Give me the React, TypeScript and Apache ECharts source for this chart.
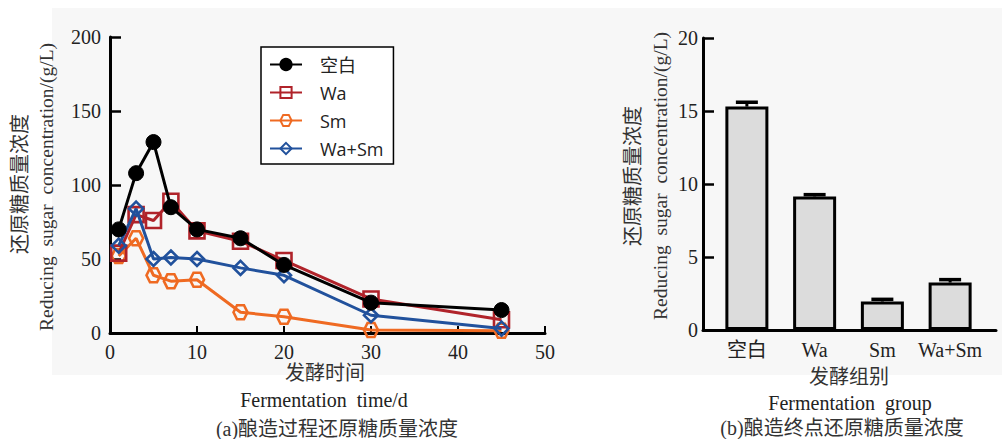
import React, { useEffect, useRef } from "react";
import * as echarts from "echarts";

const days = [1, 3, 5, 7, 10, 15, 20, 30, 45];
const blank = [70, 108, 129, 85, 70, 64, 46, 20.5, 15.5];
const wa = [54, 80, 76, 89, 69, 62, 49, 23, 9];
const sm = [52, 64, 39, 35, 36, 14, 11, 2, 1.5];
const waSm = [59, 84, 50, 51, 50, 44, 39, 12, 3];

const seriesNames = ["空白", "Wa", "Sm", "Wa+Sm"];
const groups = ["空白", "Wa", "Sm", "Wa+Sm"];
const finalValues = [15.3, 9.15, 1.95, 3.25];
const finalErrors = [0.3, 0.12, 0.15, 0.2];

const xTicks = { min: 0, max: 50, interval: 10 };
const yTicksA = { min: 0, max: 200, interval: 50 };
const yTicksB = { min: 0, max: 20, interval: 5 };

const SERIF = "'Liberation Serif', 'Times New Roman', 'Noto Sans CJK SC', serif";
const SANS = "'Open Sans', 'Noto Sans', 'Noto Sans CJK SC', sans-serif";

const hexagon = "path://M-1,0 L-0.5,-0.87 L0.5,-0.87 L1,0 L0.5,0.87 L-0.5,0.87 Z";

function pairs(vals: number[]) {
  return days.map((d, i) => [d, vals[i]]);
}

export default function App() {
  const ref = useRef<HTMLDivElement>(null);
  useEffect(() => {
    document.body.style.margin = "0";
    const chart = echarts.init(ref.current!, undefined, { renderer: "svg" });
    const axisLine = { show: true, lineStyle: { color: "#000", width: 3 } };
    const labelStyle = { color: "#222", fontFamily: SERIF, fontSize: 20 };
    const lineSeries = (name: string, vals: number[], color: string, symbol: string, size: number, filled: boolean, z: number) => ({
      name,
      type: "line",
      xAxisIndex: 0,
      yAxisIndex: 0,
      data: pairs(vals),
      symbol,
      symbolSize: size,
      showAllSymbol: true,
      z,
      lineStyle: { color, width: 3 },
      itemStyle: filled
        ? { color, borderColor: color, borderWidth: 1 }
        : { color: "rgba(255,255,255,0)", borderColor: color, borderWidth: 2.6 },
      emphasis: { disabled: true },
    });

    chart.setOption({
      animation: false,
      graphic: [
        { type: "rect", z: -10, shape: { x: 52, y: 8, width: 950, height: 367 }, style: { fill: "#f7f7f7" } },
        { type: "text", x: 20, y: 184, rotation: Math.PI / 2, style: { text: "还原糖质量浓度", font: `20px ${SERIF}`, fill: "#333", align: "center", verticalAlign: "middle" } },
        { type: "text", x: 46, y: 187, rotation: Math.PI / 2, style: { text: "Reducing  sugar  concentration/(g/L)", font: `19.5px ${SERIF}`, fill: "#333", align: "center", verticalAlign: "middle" } },
        { type: "text", x: 325, y: 373, style: { text: "发酵时间", font: `20px ${SERIF}`, fill: "#333", align: "center", verticalAlign: "middle" } },
        { type: "text", x: 324, y: 400, style: { text: "Fermentation  time/d", font: `20px ${SERIF}`, fill: "#222", align: "center", verticalAlign: "middle" } },
        { type: "text", x: 337, y: 429, style: { text: "(a)酿造过程还原糖质量浓度", font: `20px ${SERIF}`, fill: "#333", align: "center", verticalAlign: "middle" } },
        { type: "text", x: 633, y: 176, rotation: Math.PI / 2, style: { text: "还原糖质量浓度", font: `20px ${SERIF}`, fill: "#333", align: "center", verticalAlign: "middle" } },
        { type: "text", x: 660, y: 176, rotation: Math.PI / 2, style: { text: "Reducing  sugar  concentration/(g/L)", font: `19.5px ${SERIF}`, fill: "#333", align: "center", verticalAlign: "middle" } },
        { type: "text", x: 849, y: 377, style: { text: "发酵组别", font: `20px ${SERIF}`, fill: "#333", align: "center", verticalAlign: "middle" } },
        { type: "text", x: 850, y: 403, style: { text: "Fermentation  group", font: `20px ${SERIF}`, fill: "#222", align: "center", verticalAlign: "middle" } },
        { type: "text", x: 842, y: 428, style: { text: "(b)酿造终点还原糖质量浓度", font: `20px ${SERIF}`, fill: "#333", align: "center", verticalAlign: "middle" } },
      ],
      legend: {
        data: seriesNames,
        orient: "vertical",
        left: 261,
        top: 47,
        padding: [8, 10, 6, 8],
        itemWidth: 32,
        itemHeight: 14,
        itemGap: 9,
        backgroundColor: "#fff",
        borderColor: "#000",
        borderWidth: 1.5,
        borderRadius: 0,
        textStyle: { fontFamily: SANS, fontSize: 18, color: "#222", lineHeight: 19, padding: [0, 0, 0, 13] },
        selectedMode: false,
      },
      grid: [
        { left: 110, right: 457, top: 37, bottom: 106 },
        { left: 713, right: 18, top: 38, bottom: 109 },
        { left: 703, right: 6, top: 38, bottom: 109 },
      ],
      xAxis: [
        {
          type: "value",
          gridIndex: 0,
          min: xTicks.min,
          max: xTicks.max,
          interval: xTicks.interval,
          axisLine,
          axisTick: { show: true, inside: true, length: 7, lineStyle: { color: "#000", width: 2 } },
          axisLabel: { ...labelStyle, margin: 9 },
          splitLine: { show: false },
        },
        {
          type: "category",
          gridIndex: 1,
          data: groups,
          axisLine: { show: false },
          axisTick: { show: false },
          axisLabel: { ...labelStyle, interval: 0, margin: 10 },
        },
        {
          type: "value",
          gridIndex: 2,
          min: 0,
          max: 1,
          axisLine,
          axisTick: { show: false },
          axisLabel: { show: false },
          splitLine: { show: false },
        },
      ],
      yAxis: [
        {
          type: "value",
          gridIndex: 0,
          min: yTicksA.min,
          max: yTicksA.max,
          interval: yTicksA.interval,
          axisLine,
          axisTick: { show: true, inside: true, length: 11, lineStyle: { color: "#000", width: 2.5 } },
          axisLabel: { ...labelStyle, margin: 9 },
          splitLine: { show: false },
        },
        {
          type: "value",
          gridIndex: 1,
          offset: 10,
          min: yTicksB.min,
          max: yTicksB.max,
          interval: yTicksB.interval,
          axisLine,
          axisTick: { show: true, inside: true, length: 11, lineStyle: { color: "#000", width: 2.5 } },
          axisLabel: { ...labelStyle, margin: 5 },
          splitLine: { show: false },
        },
        {
          type: "value",
          gridIndex: 2,
          min: 0,
          max: 1,
          show: false,
        },
      ],
      series: [
        lineSeries("Sm", sm, "#ef6a22", hexagon, 14, false, 2),
        lineSeries("Wa", wa, "#b0232a", "rect", 15, false, 3),
        lineSeries("Wa+Sm", waSm, "#21519c", "diamond", 14, false, 4),
        lineSeries("空白", blank, "#000000", "circle", 15, true, 5),
        {
          type: "bar",
          xAxisIndex: 1,
          yAxisIndex: 1,
          data: finalValues,
          barWidth: 43,
          itemStyle: { color: "#dcdcdc", borderColor: "#000", borderWidth: 3 },
          emphasis: { disabled: true },
          z: 2,
        },
        {
          type: "custom",
          xAxisIndex: 1,
          yAxisIndex: 1,
          z: 5,
          data: finalValues.map((v, i) => [i, v, finalErrors[i]]),
          renderItem: (params: any, api: any) => {
            const x = api.value(0);
            const v = api.value(1);
            const e = api.value(2);
            const base = api.coord([x, v]);
            const top = api.coord([x, v + e]);
            return {
              type: "group",
              children: [
                { type: "line", shape: { x1: base[0], y1: base[1], x2: top[0], y2: top[1] }, style: { stroke: "#000", lineWidth: 3 } },
                { type: "line", shape: { x1: top[0] - 11, y1: top[1], x2: top[0] + 11, y2: top[1] }, style: { stroke: "#000", lineWidth: 3.5 } },
              ],
            };
          },
        },
      ],
    });
    return () => chart.dispose();
  }, []);
  return <div ref={ref} style={{ width: 1002, height: 439 }} />;
}
